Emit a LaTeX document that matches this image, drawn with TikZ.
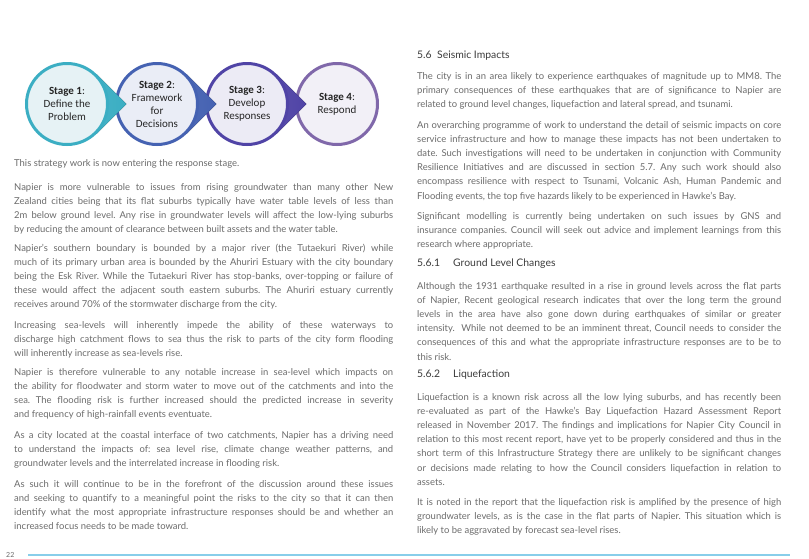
\documentclass[tikz,border=0pt]{standalone}
\usepackage{fontspec}
\setmainfont{Lato}
\newfontfamily\stagefont{Carlito}
\usetikzlibrary{positioning}
\frenchspacing

\definecolor{stageone}{HTML}{3BAEC3}
\definecolor{stageonebg}{HTML}{E6F2F5}
\definecolor{stagetwo}{HTML}{4562B2}
\definecolor{stagetwobg}{HTML}{EAEDF6}
\definecolor{stagethree}{HTML}{5044A6}
\definecolor{stagethreebg}{HTML}{ECEBF5}
\definecolor{stagefour}{HTML}{8068AA}
\definecolor{stagefourbg}{HTML}{F2F0F7}
\definecolor{bodytext}{HTML}{6C6C6C}
\definecolor{headtext}{HTML}{3C3C3C}
\definecolor{footline}{HTML}{88CEEA}

\begin{document}
\begin{tikzpicture}[
            x=1pt, y=-1pt,
            stage/.style={circle, line width=3pt, minimum size=81pt, inner sep=0pt, align=center, text=black!85, font=\stagefont\fontsize{11}{13}\selectfont},
            body/.style={anchor=base west, inner sep=0pt, align=justify, text=bodytext, font=\fontsize{9.45}{14.2}\selectfont},
            leftcol/.style={body, text width=379pt},
            rightcol/.style={body, text width=364pt},
            heading/.style={anchor=base west, inner sep=0pt, text=headtext, font=\fontsize{10.4}{12}\selectfont}
            ]

            \clip (0,0) rectangle (809,558);
            \fill[white] (0,0) rectangle (809,558);

            % Stages, drawn from the last one so each pointer lies over the next circle
            \node[stage, draw=stagefour, fill=stagefourbg] (respond) at (337,104) {\textbf{Stage 4}:\\Respond};
            \fill[left color=stagethree!90, right color=stagethree] (247,104) -- ++(45:42) -- ++(-45:42) -- ++(-135:42) -- cycle;
            \node[stage, draw=stagethree, fill=stagethreebg] (develop) at (247,104) {\textbf{Stage 3}:\\Develop\\Responses};
            \fill[left color=stagetwo!90, right color=stagetwo] (157,104) -- ++(45:42) -- ++(-45:42) -- ++(-135:42) -- cycle;
            \node[stage, draw=stagetwo, fill=stagetwobg] (framework) at (157,104) {\textbf{Stage 2}:\\Framework\\for\\Decisions};
            \fill[left color=stageone!90, right color=stageone] (67,104) -- ++(45:42) -- ++(-45:42) -- ++(-135:42) -- cycle;
            \node[stage, draw=stageone, fill=stageonebg] (define) at (67,104) {\textbf{Stage 1}:\\Define the\\Problem};

            % Left column
            \node[body] (note) at (14,166) {This strategy work is now entering the response stage.};
            \node[leftcol] (groundwater) at (14,190) {Napier is more vulnerable to issues from rising groundwater than many other New\linebreak Zealand cities being that its flat suburbs typically have water table levels of less than\linebreak 2m below ground level. Any rise in groundwater levels will affect the low-lying suburbs\linebreak by reducing the amount of clearance between built assets and the water table.};
            \node[leftcol] (rivers) at (14,251) {Napier's southern boundary is bounded by a major river (the Tutaekuri River) while\linebreak much of its primary urban area is bounded by the Ahuriri Estuary with the city boundary\linebreak being the Esk River. While the Tutaekuri River has stop-banks, over-topping or failure of\linebreak these would affect the adjacent south eastern suburbs. The Ahuriri estuary currently\linebreak receives around 70\% of the stormwater discharge from the city.};
            \node[leftcol] (sealevels) at (14,328) {Increasing sea-levels will inherently impede the ability of these waterways to\linebreak discharge high catchment flows to sea thus the risk to parts of the city form flooding\linebreak will inherently increase as sea-levels rise.};
            \node[leftcol] (vulnerable) at (14,375) {Napier is therefore vulnerable to any notable increase in sea-level which impacts on\linebreak the ability for floodwater and storm water to move out of the catchments and into the\linebreak sea. The flooding risk is further increased should the predicted increase in severity\linebreak and frequency of high-rainfall events eventuate.};
            \node[leftcol] (catchments) at (14,438) {As a city located at the coastal interface of two catchments, Napier has a driving need\linebreak to understand the impacts of: sea level rise, climate change weather patterns, and\linebreak groundwater levels and the interrelated increase in flooding risk.};
            \node[leftcol] (forefront) at (14,487) {As such it will continue to be in the forefront of the discussion around these issues\linebreak and seeking to quantify to a meaningful point the risks to the city so that it can then\linebreak identify what the most appropriate infrastructure responses should be and whether an\linebreak increased focus needs to be made toward.};

            % Right column
            \node[heading] (seismicnum) at (417,58) {5.6};
            \node[heading] (seismic) at (437,58) {Seismic Impacts};
            \node[rightcol] (magnitude) at (417,79) {The city is in an area likely to experience earthquakes of magnitude up to MM8. The\linebreak primary consequences of these earthquakes that are of significance to Napier are\linebreak related to ground level changes, liquefaction and lateral spread, and tsunami.};
            \node[rightcol] (programme) at (417,128) {An overarching programme of work to understand the detail of seismic impacts on core\linebreak service infrastructure and how to manage these impacts has not been undertaken to\linebreak date. Such investigations will need to be undertaken in conjunction with Community\linebreak Resilience Initiatives and are discussed in section 5.7. Any such work should also\linebreak encompass resilience with respect to Tsunami, Volcanic Ash, Human Pandemic and\linebreak Flooding events, the top five hazards likely to be experienced in Hawke's Bay.};
            \node[rightcol] (modelling) at (417,219) {Significant modelling is currently being undertaken on such issues by GNS and\linebreak insurance companies. Council will seek out advice and implement learnings from this\linebreak research where appropriate.};
            \node[heading] (groundnum) at (417,266) {5.6.1};
            \node[heading] (ground) at (453,266) {Ground Level Changes};
            \node[rightcol] (earthquake) at (417,289) {Although the 1931 earthquake resulted in a rise in ground levels across the flat parts\linebreak of Napier, Recent geological research indicates that over the long term the ground\linebreak levels in the area have also gone down during earthquakes of similar or greater\linebreak intensity. \ While not deemed to be an imminent threat, Council needs to consider the\linebreak consequences of this and what the appropriate infrastructure responses are to be to\linebreak this risk.};
            \node[heading] (liqnum) at (417,377) {5.6.2};
            \node[heading] (liquefaction) at (453,377) {Liquefaction};
            \node[rightcol] (lowlying) at (417,400) {Liquefaction is a known risk across all the low lying suburbs, and has recently been\linebreak re-evaluated as part of the Hawke's Bay Liquefaction Hazard Assessment Report\linebreak released in November 2017. The findings and implications for Napier City Council in\linebreak relation to this most recent report, have yet to be properly considered and thus in the\linebreak short term of this Infrastructure Strategy there are unlikely to be significant changes\linebreak or decisions made relating to how the Council considers liquefaction in relation to\linebreak assets.};
            \node[rightcol] (amplified) at (417,505) {It is noted in the report that the liquefaction risk is amplified by the presence of high\linebreak groundwater levels, as is the case in the flat parts of Napier. This situation which is\linebreak likely to be aggravated by forecast sea-level rises.};

            % Footer
            \node[heading, text=bodytext, font=\fontsize{7}{8}\selectfont] (page) at (6,557) {22};
            \coordinate (rulestart) at (28,555);
            \coordinate (ruleend) at (790,555);
            \draw[footline, line width=2.5pt] (rulestart) -- (ruleend);

        \end{tikzpicture}
\end{document}
